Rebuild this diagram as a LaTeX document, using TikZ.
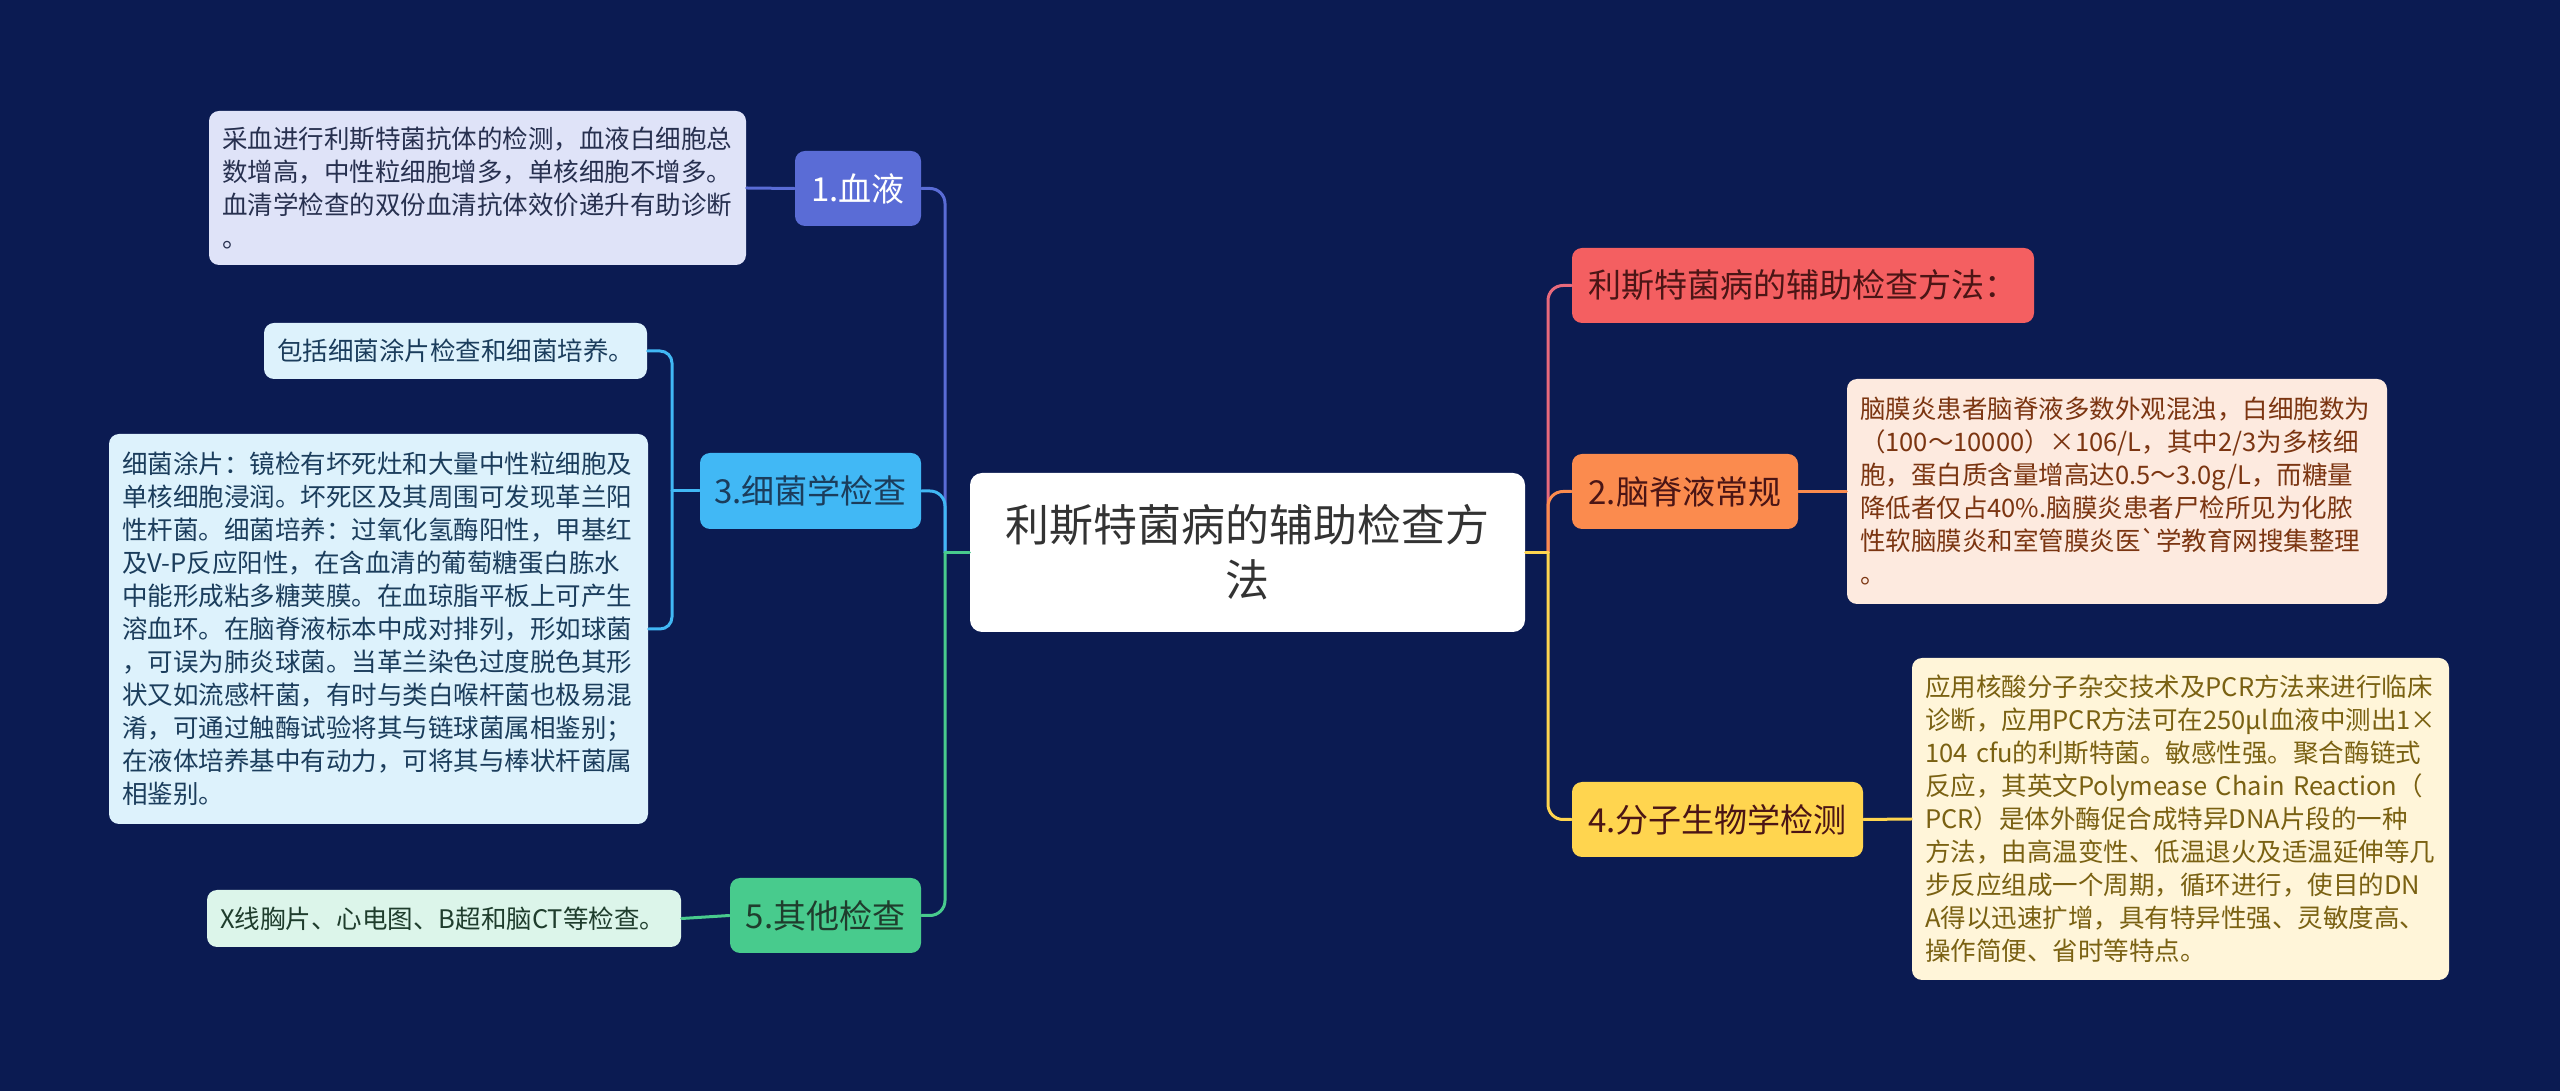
\documentclass[tikz,border=0pt]{standalone}
\usepackage{fontspec}
\setmainfont{Noto Sans CJK SC}
\definecolor{lsNavy}{HTML}{0B1B52}
\definecolor{lsInk}{HTML}{333333}
\definecolor{lsBlue}{HTML}{5A6CD6}
\definecolor{lsSky}{HTML}{41B8F5}
\definecolor{lsGreen}{HTML}{48CB8D}
\definecolor{lsRed}{HTML}{F45F61}
\definecolor{lsRedLine}{HTML}{E86A7C}
\definecolor{lsOrange}{HTML}{FB8B4E}
\definecolor{lsYellow}{HTML}{FFD54F}
\definecolor{lsBlueLeaf}{HTML}{DFE3F8}
\definecolor{lsSkyLeaf}{HTML}{DDF2FC}
\definecolor{lsGreenLeaf}{HTML}{DCF5EA}
\definecolor{lsOrangeLeaf}{HTML}{FDEADF}
\definecolor{lsYellowLeaf}{HTML}{FFF5D9}
\definecolor{lsBlueInk}{HTML}{27304F}
\definecolor{lsSkyInk}{HTML}{1B3D5C}
\definecolor{lsGreenInk}{HTML}{1F3D2D}
\definecolor{lsRedInk}{HTML}{4B1515}
\definecolor{lsOrangeInk}{HTML}{7B3511}
\definecolor{lsYellowInk}{HTML}{7A6112}
\newcommand{\lsGrave}{{\XeTeXglyph\XeTeXcharglyph"60\relax}}
\tikzset{
 mind/.style={line cap=round,line join=round},
 rootnode/.style={rectangle,rounded corners=1.2mm,fill=white,text=lsInk,align=center,
   font=\fontsize{12.5pt}{15.6pt}\selectfont,inner sep=0pt},
 topic/.style 2 args={rectangle,rounded corners=1mm,fill=#1,text=#2,
   font=\fontsize{9.4pt}{11pt}\selectfont,inner sep=0pt,minimum height=7.5mm},
 leaf/.style 2 args={rectangle,rounded corners=1mm,fill=#1,text=#2,align=left,
   font=\fontsize{7.26pt}{9.39pt}\selectfont,inner xsep=1.3mm,inner ysep=0pt},
 branch/.style={line width=.3mm,rounded corners=1.5mm},
}

\begin{document}
\begin{tikzpicture}[mind,x=.1mm,y=-.1mm]
 \fill[lsNavy] (0,0) rectangle (2560,1091);
 \node[rootnode,minimum width=55.5mm,minimum height=15.9mm] (root) at (1247.5,552.5) {利斯特菌病的辅助检查方\\法};
 % left topics
 \node[topic={lsBlue}{white},minimum width=12.6mm] (blood) at (858,188.5) {1.血液};
 \node[topic={lsSky}{lsSkyInk},minimum width=22.1mm,minimum height=7.6mm] (bact) at (810.5,491) {3.细菌学检查};
 \node[topic={lsGreen}{lsGreenInk},minimum width=19.1mm] (other) at (825.5,915.5) {5.其他检查};
 % right topics
 \node[topic={lsRed}{lsRedInk},minimum width=46.2mm] (title) at (1803,285.5) {利斯特菌病的辅助检查方法：};
 \node[topic={lsOrange}{lsRedInk},minimum width=22.6mm] (csf) at (1685,491.5) {2.脑脊液常规};
 \node[topic={lsYellow}{lsRedInk},minimum width=29.1mm] (pcr) at (1717.5,819.5) {4.分子生物学检测};
 % leaves
 \node[leaf={lsBlueLeaf}{lsBlueInk},text width=51.1mm,minimum height=15.4mm] (bloodtxt) at (477.5,188) {采血进行利斯特菌抗体的检测，血液白细胞总\\数增高，中性粒细胞增多，单核细胞不增多。\\血清学检查的双份血清抗体效价递升有助诊断\\。};
 \node[leaf={lsSkyLeaf}{lsSkyInk},text width=35.7mm,minimum height=5.6mm] (smear) at (455.5,351) {包括细菌涂片检查和细菌培养。};
 \node[leaf={lsSkyLeaf}{lsSkyInk},text width=51.3mm,minimum height=39mm] (culture) at (378.5,629) {细菌涂片：镜检有坏死灶和大量中性粒细胞及\\单核细胞浸润。坏死区及其周围可发现革兰阳\\性杆菌。细菌培养：过氧化氢酶阳性，甲基红\\及V-P反应阳性，在含血清的葡萄糖蛋白胨水\\中能形成粘多糖荚膜。在血琼脂平板上可产生\\溶血环。在脑脊液标本中成对排列，形如球菌\\，可误为肺炎球菌。当革兰染色过度脱色其形\\状又如流感杆菌，有时与类白喉杆菌也极易混\\淆，可通过触酶试验将其与链球菌属相鉴别；\\在液体培养基中有动力，可将其与棒状杆菌属\\相鉴别。};
 \node[leaf={lsGreenLeaf}{lsGreenInk},text width=44.8mm,minimum height=5.7mm] (othertxt) at (444,918.5) {X线胸片、心电图、B超和脑CT等检查。};
 \node[leaf={lsOrangeLeaf}{lsOrangeInk},text width=51.4mm,minimum height=22.5mm] (csftxt) at (2117,491.5) {脑膜炎患者脑脊液多数外观混浊，白细胞数为\\（100～10000）×106/L，其中2/3为多核细\\胞，蛋白质含量增高达0.5～3.0g/L，而糖量\\降低者仅占40\%.脑膜炎患者尸检所见为化脓\\性软脑膜炎和室管膜炎医\lsGrave 学教育网搜集整理\\。};
 \node[leaf={lsYellowLeaf}{lsYellowInk},text width=51.1mm,minimum height=32.2mm] (pcrtxt) at (2180.5,819) {应用核酸分子杂交技术及PCR方法来进行临床\\诊断，应用PCR方法可在250μl血液中测出1×\\104 cfu的利斯特菌。敏感性强。聚合酶链式\\反应，其英文Polymease Chain Reaction（\\PCR）是体外酶促合成特异DNA片段的一种\\方法，由高温变性、低温退火及适温延伸等几\\步反应组成一个周期，循环进行，使目的DN\\A得以迅速扩增，具有特异性强、灵敏度高、\\操作简便、省时等特点。};
 % trunks
 \coordinate (lj) at (945,552.5);
 \coordinate (rj) at (1548,552.5);
 \coordinate (bj) at (672,491);
 \foreach \n/\c in {blood/lsBlue,bact/lsSky,other/lsGreen}
  \draw[branch,\c] (lj) |- (\n.east);
 \draw[branch,lsGreen] (root.west) -- (lj);
 \foreach \n/\c in {title/lsRedLine,csf/lsOrange,pcr/lsYellow}
  \draw[branch,\c] (rj) |- (\n.west);
 \draw[branch,lsYellow] (root.east) -- (rj);
 % leaf links
 \draw[branch,lsBlue] (blood.west) -- (bloodtxt.east);
 \draw[branch,lsSky] (bact.west) -- (bj);
 \draw[branch,lsSky,rounded corners=1.2mm] (bj) |- (smear.east);
 \draw[branch,lsSky,rounded corners=1.2mm] (bj) |- (culture.east);
 \draw[branch,lsGreen] (other.west) -- (othertxt.east);
 \draw[branch,lsOrange] (csf.east) -- (csftxt.west);
 \draw[branch,lsYellow] (pcr.east) -- (pcrtxt.west);
\end{tikzpicture}
\end{document}
